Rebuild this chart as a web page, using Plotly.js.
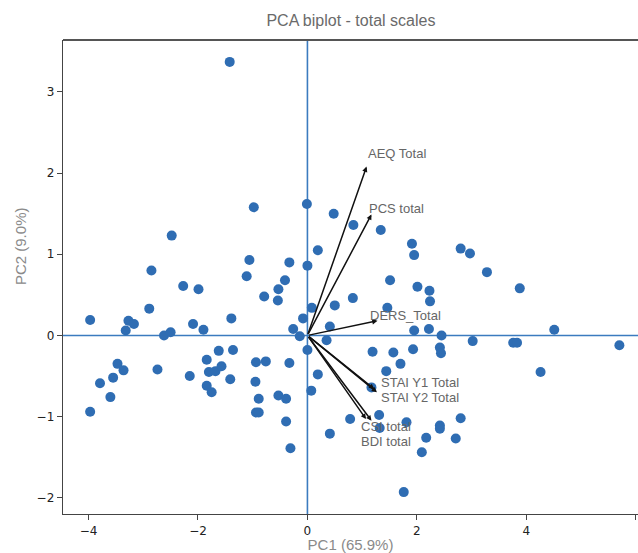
<!DOCTYPE html>
<html>
<head>
<meta charset="utf-8">
<script src="https://cdn.plot.ly/plotly-3.0.1.min.js"></script>
<style>html,body{margin:0;padding:0;background:#fff;}#chart{width:638px;height:553px;}</style>
</head>
<body>
<div id="chart"></div>
<script>
// Scores (PC1, PC2)
const pc1 = [-1.42,-2.48,-0.98,-1.06,-1.11,-2.85,-2.27,-1.99,-2.89,-3.27,-3.17,-3.32,-2.62,-2.50,-2.09,-1.90,-1.39,-3.97,
  -0.01,0.48,0.84,1.34,1.91,1.95,0.19,-0.33,0.00,-0.41,-0.53,-0.79,-0.54,1.51,2.01,2.23,2.24,0.83,0.50,0.08,1.46,-0.08,0.41,-0.26,-0.14,
  1.95,2.22,2.45,0.35,0.00,1.19,1.57,1.93,2.42,2.44,2.80,2.97,3.28,3.88,4.51,3.02,3.76,3.83,5.70,
  -3.97,-3.79,-3.60,-3.55,-3.47,-3.36,-2.74,-2.15,-1.84,-1.62,-1.36,-1.80,-1.68,-1.57,-1.84,-1.75,-1.41,
  -0.94,-0.95,-0.89,-0.94,-0.89,-0.76,-0.33,-0.53,-0.39,-0.39,-0.31,0.19,0.07,0.41,0.78,
  1.70,1.44,1.17,1.31,1.32,1.81,2.42,2.42,2.17,2.09,1.76,4.26,2.80,2.71];
const pc2 = [3.37,1.23,1.58,0.93,0.73,0.80,0.61,0.57,0.33,0.18,0.14,0.06,0.00,0.04,0.14,0.07,0.21,0.19,
  1.62,1.50,1.36,1.30,1.13,0.99,1.05,0.90,0.86,0.68,0.57,0.48,0.43,0.68,0.60,0.55,0.42,0.46,0.37,0.34,0.34,0.21,0.11,0.08,-0.01,
  0.06,0.08,0.00,-0.06,-0.18,-0.20,-0.21,-0.17,-0.15,-0.22,1.07,1.01,0.78,0.58,0.07,-0.07,-0.09,-0.09,-0.12,
  -0.94,-0.59,-0.76,-0.52,-0.35,-0.43,-0.42,-0.50,-0.30,-0.19,-0.18,-0.45,-0.44,-0.38,-0.62,-0.70,-0.54,
  -0.33,-0.57,-0.78,-0.95,-0.95,-0.32,-0.34,-0.74,-0.78,-1.06,-1.39,-0.48,-0.68,-1.21,-1.03,
  -0.35,-0.44,-0.64,-0.98,-1.14,-1.07,-1.11,-1.15,-1.26,-1.44,-1.93,-0.45,-1.02,-1.27];

// Loadings (arrows)
const varNames = ["AEQ Total","PCS total","DERS_Total","STAI Y1 Total","STAI Y2 Total","CSI total","BDI total"];
const loadX = [1.08,1.17,1.28,1.22,1.27,1.17,1.07];
const loadY = [2.08,1.49,0.18,-0.66,-0.70,-1.05,-1.03];
const labelX = [1.07,1.09,1.11,1.31,1.31,0.95,0.95];
const labelY = [2.24,1.57,0.25,-0.58,-0.77,-1.12,-1.31];

const titleFont = {family:"Liberation Sans, Arial, sans-serif", size:16, color:"#6a6a6a"};
const axisTitleFont = {family:"Liberation Sans, Arial, sans-serif", size:15, color:"#8a8a8a"};

const annotations = [];
for (let i = 0; i < varNames.length; i++) {
  annotations.push({
    x: loadX[i], y: loadY[i], xref:"x", yref:"y",
    ax: 0, ay: 0, axref:"x", ayref:"y",
    showarrow:true, arrowhead:2, arrowsize:0.7, arrowwidth:1.5, arrowcolor:"#111",
    text:""
  });
}
for (let i = 0; i < varNames.length; i++) {
  annotations.push({
    x: labelX[i], y: labelY[i], xref:"x", yref:"y",
    text: varNames[i], showarrow:false, xanchor:"left", yanchor:"middle",
    font:{family:"Liberation Sans, Arial, sans-serif", size:13, color:"#666"}
  });
}
annotations.push({
  xref:"paper", yref:"paper", x:-0.075, y:0.565, text:"PC2 (9.0%)", textangle:-90,
  showarrow:false, xanchor:"center", yanchor:"middle", font:axisTitleFont
});

const trace = {
  x: pc1, y: pc2, type:"scatter", mode:"markers",
  marker:{color:"#2f6db3", size:10, opacity:1},
  hoverinfo:"none"
};

const zeroColor = "#3b7bbf";
const layout = {
  width:638, height:553,
  margin:{l:63, r:0, t:40, b:39},
  paper_bgcolor:"#fff", plot_bgcolor:"#fff",
  showlegend:false,
  title:{text:"PCA biplot - total scales", font:titleFont, x:0.55, xanchor:"center", y:0.963, yanchor:"middle"},
  xaxis:{
    range:[-4.466, 6.04], tickvals:[-4,-2,0,2,4,6],
    showgrid:false, zeroline:false,
    showline:true, linecolor:"#444", linewidth:1.3,
    ticks:"outside", ticklen:5, tickcolor:"#444",
    tickfont:{family:"DejaVu Sans, sans-serif", size:12, color:"#222"},
    title:{text:"PC1 (65.9%)", font:axisTitleFont, standoff:4}
  },
  yaxis:{
    range:[-2.2, 3.64], tickvals:[-2,-1,0,1,2,3],
    showgrid:false, zeroline:false,
    showline:true, linecolor:"#444", linewidth:1.3,
    ticks:"outside", ticklen:5, tickcolor:"#444",
    tickfont:{family:"DejaVu Sans, sans-serif", size:12, color:"#222"}
  },
  shapes:[
    {type:"line", xref:"paper", yref:"paper", x0:0, x1:1, y0:1, y1:1, line:{color:"#555", width:1.8}},
    {type:"line", layer:"below", xref:"paper", yref:"y", x0:0, x1:1, y0:0, y1:0, line:{color:zeroColor, width:1.6}},
    {type:"line", layer:"below", xref:"x", yref:"paper", x0:0, x1:0, y0:0, y1:1, line:{color:zeroColor, width:1.6}}
  ],
  annotations: annotations
};

Plotly.newPlot("chart", [trace], layout, {staticPlot:true, displayModeBar:false});
</script>
</body>
</html>
